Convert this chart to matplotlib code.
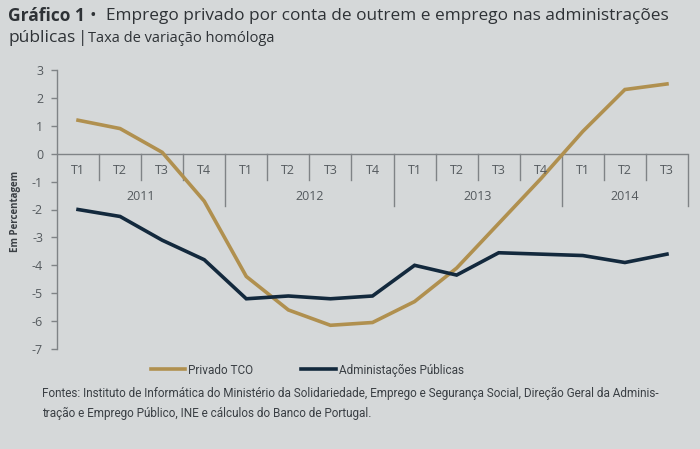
import matplotlib
matplotlib.use("Agg")
import matplotlib.pyplot as plt
from matplotlib import font_manager
import numpy as np

quarters = ["T1", "T2", "T3", "T4"] * 3 + ["T1", "T2", "T3"]
years = ["2011", "2012", "2013", "2014"]
year_nq = [4, 4, 4, 3]
privado = [1.2, 0.9, 0.05, -1.7, -4.4, -5.6, -6.15, -6.05, -5.3, -4.1, -2.5, -0.9, 0.8, 2.3, 2.5]
admin = [-2.0, -2.25, -3.1, -3.8, -5.2, -5.1, -5.2, -5.1, -4.0, -4.35, -3.55, -3.6, -3.65, -3.9, -3.6]
yticks = [3, 2, 1, 0, -1, -2, -3, -4, -5, -6, -7]

names = {f.name for f in font_manager.fontManager.ttflist}
main_font = "Open Sans" if "Open Sans" in names else "DejaVu Sans"
narrow = "Roboto" if "Roboto" in names else main_font
plt.rcParams['font.family'] = [main_font, 'DejaVu Sans']

BG = "#d5d8d9"
GOLD = "#b0904f"
NAVY = "#13293d"
AX = "#7f8386"
TXT = "#555a5e"
DARK = "#2e3236"

W, H = 700, 449
fig = plt.figure(figsize=(7.0, 4.49), dpi=100, facecolor=BG)
ax = fig.add_axes([57 / W, 1 - 349 / H, (688 - 57) / W, (349 - 70) / H])
ax.set_facecolor(BG)

x = np.arange(len(quarters))
ax.plot(x, privado, color=GOLD, lw=2.6, solid_joinstyle="miter", label="Privado TCO")
ax.plot(x, admin, color=NAVY, lw=2.6, solid_joinstyle="miter", label="Administações Públicas")

ax.set_xlim(-0.5, len(quarters) - 0.5)
ax.set_ylim(-7, 3)
for s in ["top", "right", "bottom"]:
    ax.spines[s].set_visible(False)
ax.spines["left"].set_color(AX)
ax.spines["left"].set_linewidth(1.0)
ax.set_yticks(yticks)
ax.set_yticklabels([str(v) for v in yticks])
ax.tick_params(axis="y", colors=AX, labelcolor=TXT, labelsize=9, length=4, width=1, pad=6)
ax.set_xticks([])

ax.axhline(0, color=AX, lw=1.0, zorder=1)
ppu = (349 - 70) / 10.0
q_len = 26 / ppu
y_len = 52 / ppu
boundaries = np.arange(0.5, len(quarters) - 0.5, 1.0)
year_bounds = np.cumsum(year_nq)[:-1] - 0.5
for b in boundaries:
    L = y_len if b in year_bounds else q_len
    ax.plot([b, b], [0, -L], color=AX, lw=1.0, zorder=1)
ax.plot([len(quarters) - 0.5] * 2, [0, -y_len], color=AX, lw=1.0, zorder=1, clip_on=False)
for i, q in enumerate(quarters):
    ax.text(i, -17 / ppu, q, ha="center", va="center", fontsize=9, color=TXT)
start = 0
for yr, n in zip(years, year_nq):
    ax.text(start + (n - 1) / 2, -43 / ppu, yr, ha="center", va="center", fontsize=9, color=TXT)
    start += n

fig.text(16 / W, 1 - 211 / H, "Em Percentagem", rotation=90, ha="center", va="center",
         fontsize=7, fontweight="bold", color="#3a3f44")

# title
fig.text(8 / W, 1 - 16 / H, "Gráfico 1", fontsize=12.5, fontweight="bold", color=DARK,
         ha="left", va="center")
fig.text(90 / W, 1 - 16 / H, "•", fontsize=12.5, color=DARK, ha="left", va="center")
fig.text(106 / W, 1 - 16 / H, "Emprego privado por conta de outrem e emprego nas administrações",
         fontsize=12.4, color=DARK, ha="left", va="center")
fig.text(8 / W, 1 - 38 / H, "públicas", fontsize=12.5, color=DARK, ha="left", va="center")
fig.text(78 / W, 1 - 38 / H, "|", fontsize=12.5, color=DARK, ha="left", va="center")
fig.text(88 / W, 1 - 38 / H, "Taxa de variação homóloga", fontsize=10.5, color=DARK,
         ha="left", va="center")

# legend
leg = fig.legend(loc="center left", bbox_to_anchor=(140 / W, 1 - 370 / H), ncol=2, frameon=False,
                 handlelength=2.9, handletextpad=0.25, columnspacing=4.1,
                 prop={"family": [narrow, "DejaVu Sans"], "size": 8.5})
for t in leg.get_texts():
    t.set_color("#3a3f44")

src1 = fig.text(42 / W, 1 - 393 / H,
         "Fontes: Instituto de Informática do Ministério da Solidariedade, Emprego e Segurança Social, Direção Geral da Adminis-",
         fontsize=9.5, family=[narrow, "DejaVu Sans"], color="#3a3f44", ha="left", va="center")
src2 = fig.text(42 / W, 1 - 413 / H,
         "tração e Emprego Público, INE e cálculos do Banco de Portugal.",
         fontsize=9.5, family=[narrow, "DejaVu Sans"], color="#3a3f44", ha="left", va="center")
r = fig.canvas.get_renderer()
wpx = src1.get_window_extent(r).width
fs = 9.5 * min(1.0, 628 / wpx)
src1.set_fontsize(fs)
src2.set_fontsize(fs)

fig.savefig("out.png", dpi=100, facecolor=BG)
